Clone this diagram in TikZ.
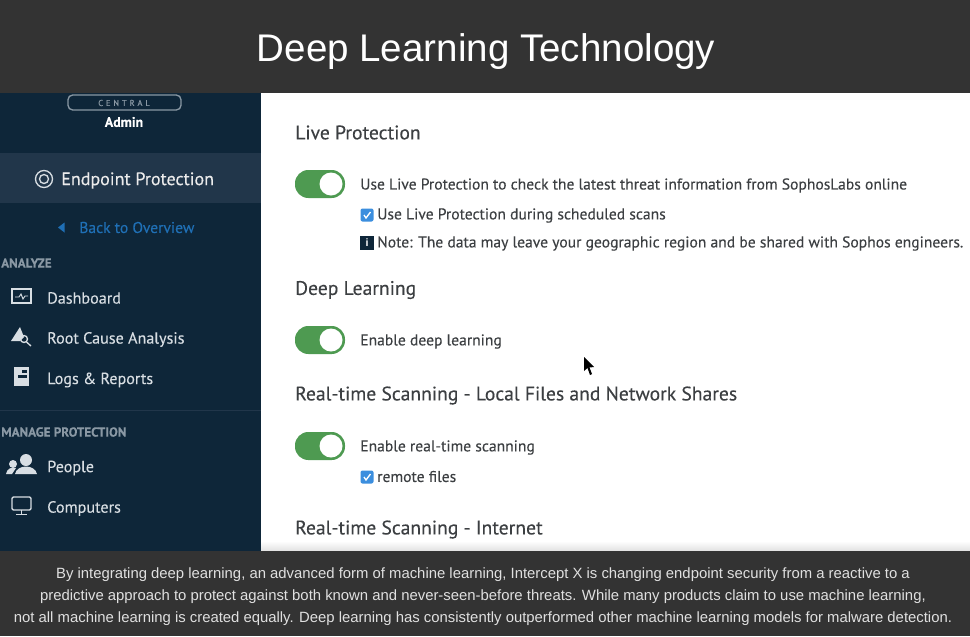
\documentclass[tikz,border=0pt]{standalone}
\usepackage{fontspec}
\setmainfont{Liberation Sans}
\newfontfamily\appfont[FakeBold=0.2]{PT Sans}
\usetikzlibrary{backgrounds}
\definecolor{barcol}{HTML}{333333}
\definecolor{sidecol}{HTML}{0E2639}
\definecolor{sidehi}{HTML}{21364A}
\definecolor{sidetxt}{HTML}{D8DEE3}
\definecolor{headtxt}{HTML}{8A98A4}
\definecolor{linkcol}{HTML}{1F6FB5}
\definecolor{maintxt}{HTML}{3C3F42}
\definecolor{togcol}{HTML}{4E9A51}
\definecolor{boxcol}{HTML}{3B8EDE}
\tikzset{
  menu/.style={anchor=west,inner sep=0,text=sidetxt,font=\appfont\fontsize{12.1}{14}\selectfont},
  menuhead/.style={anchor=west,inner sep=0,text=headtxt,font=\appfont\bfseries\fontsize{9.8}{11}\selectfont},
  heading/.style={anchor=west,inner sep=0,text=maintxt,font=\appfont\fontsize{14.7}{17}\selectfont},
  option/.style={anchor=west,inner sep=0,text=maintxt,font=\appfont\fontsize{11.7}{14}\selectfont},
  caption/.style={inner sep=0,text=white!88!black,font=\fontsize{11.15}{13}\selectfont},
  icon/.style={draw=sidetxt,line width=1pt},
  iconfill/.style={fill=sidetxt},
}
\newcommand{\toggle}[2]{%
  \fill[togcol,rounded corners=10pt] (#1-25,#2-14) rectangle (#1+25,#2+14);
  \fill[white] (#1+11,#2) circle (11.5);
}
\newcommand{\tickbox}[2]{%
  \fill[boxcol,rounded corners=1.5pt] (#1-6.5,#2-6.5) rectangle (#1+6.5,#2+6.5);
  \draw[white,line width=1pt] (#1-3,#2) -- (#1-1,#2+3) -- (#1+3.5,#2-3);
}
\begin{document}
\begin{tikzpicture}[x=0.75pt,y=-0.75pt]
\useasboundingbox (0,0) rectangle (970,636);
% page
\fill[white] (0,0) rectangle (970,636);
\fill[sidecol] (0,93) rectangle (261,551);
\fill[sidehi] (0,153) rectangle (261,203);
\draw[sidehi,line width=0.5pt] (0,410) -- (261,410);
\shade[top color=white,bottom color=black!12] (261,541) rectangle (970,551);
\fill[barcol] (0,0) rectangle (970,93);
\fill[barcol] (0,551) rectangle (970,636);
% title
\node (title) at (486,51.5) [inner sep=0,text=white,font=\fontsize{28.9}{33}\selectfont] {Deep Learning Technology};
% sidebar
\draw[draw=headtxt,line width=1pt,rounded corners=3.5pt] (68,95) rectangle (181,110);
\node (central) at (124,103) [inner sep=0,text=headtxt,font=\appfont\fontsize{6.4}{8}\selectfont] {C\,\,E\,\,N\,\,T\,\,R\,\,A\,\,L};
\node (admin) at (124,122) [inner sep=0,text=white,font=\appfont\bfseries\fontsize{10.4}{12}\selectfont] {Admin};
\node (endpoint) at (61,180.5) [menu,text=white!92!black,font=\appfont\fontsize{13.5}{16}\selectfont] {Endpoint Protection};
\draw[icon] (44,179) circle (8.5);
\draw[icon] (44,179) circle (4.5);
\fill[linkcol] (58,227.5) -- (64.5,222.5) -- (64.5,232.5) -- cycle;
\node (back) at (79,227.5) [menu,text=linkcol,font=\appfont\fontsize{11.7}{14}\selectfont] {Back to Overview};
\node (analyze) at (1,263) [menuhead] {ANALYZE};
\node (dash) at (47,298) [menu] {Dashboard};
\draw[icon] (12,289) rectangle (31,303);
\draw[icon,line width=0.7pt] (15,297) -- (19,297) -- (21,294) -- (23,299) -- (25,296) -- (28,296);
\node (rootcause) at (47,339.5) [menu] {Root Cause Analysis};
\fill[iconfill] (11,341) -- (20,327) -- (24,337) -- (20,341) -- cycle;
\draw[icon] (24,339) circle (3.5);
\draw[icon] (26.5,342) -- (31,346);
\node (logs) at (47,380) [menu] {Logs \& Reports};
\fill[iconfill] (14,367) rectangle (29,386);
\fill[sidecol] (18,375) rectangle (27,378);
\fill[sidecol] (22,370) rectangle (27,373);
\node (manage) at (1,432) [menuhead] {MANAGE PROTECTION};
\node (people) at (47,468) [menu] {People};
\fill[iconfill] (26,460) circle (6);
\fill[iconfill] (15,474) .. controls (17,464) and (35,464) .. (37,474) -- cycle;
\fill[iconfill] (13,464) circle (4);
\fill[iconfill] (6,474) .. controls (7,468) and (12,467) .. (16,468) -- (12,474) -- cycle;
\node (computers) at (47,508.5) [menu] {Computers};
\draw[icon,rounded corners=1pt] (12,497) rectangle (31,510);
\draw[icon] (21.5,510) -- (21.5,514);
\draw[icon] (16,514.5) -- (27,514.5);
% main panel
\node (live) at (295,132.5) [heading] {Live Protection};
\toggle{320}{184}
\node (liveopt) at (360,185.5) [option] {Use Live Protection to check the latest threat information from SophosLabs online};
\tickbox{367}{215}
\node (livescan) at (377,215.5) [option] {Use Live Protection during scheduled scans};
\fill[sidecol] (360,236) rectangle (374,250);
\node (infomark) at (367,243) [inner sep=0,text=white,font=\bfseries\fontsize{8}{9}\selectfont] {i};
\node (note) at (377,243.5) [option] {Note: The data may leave your geographic region and be shared with Sophos engineers.};
\node (deep) at (295,290) [heading] {Deep Learning};
\toggle{320}{340}
\node (deepopt) at (360,341.5) [option] {Enable deep learning};
\node (local) at (295,395.5) [heading] {Real-time Scanning - Local Files and Network Shares};
\toggle{320}{446}
\node (localopt) at (360,447.5) [option] {Enable real-time scanning};
\tickbox{367}{477}
\node (remote) at (377,476.5) [option] {remote files};
\node (internet) at (295,529.5) [heading] {Real-time Scanning - Internet};
% cursor
\fill[black] (584,357) -- (584,371) -- (587.5,368) -- (590,375) -- (592,374) -- (589.5,367.5) -- (594,367) -- cycle;
% caption
\node (capa) at (483,575) [caption] {By integrating deep learning, an advanced form of machine learning, Intercept X is changing endpoint security from a reactive to a};
\node (capb) at (483,597) [caption] {predictive approach to protect against both known and never-seen-before threats. While many products claim to use machine learning,};
\node (capc) at (483,619) [caption] {not all machine learning is created equally. Deep learning has consistently outperformed other machine learning models for malware detection.};
\end{tikzpicture}
\end{document}
